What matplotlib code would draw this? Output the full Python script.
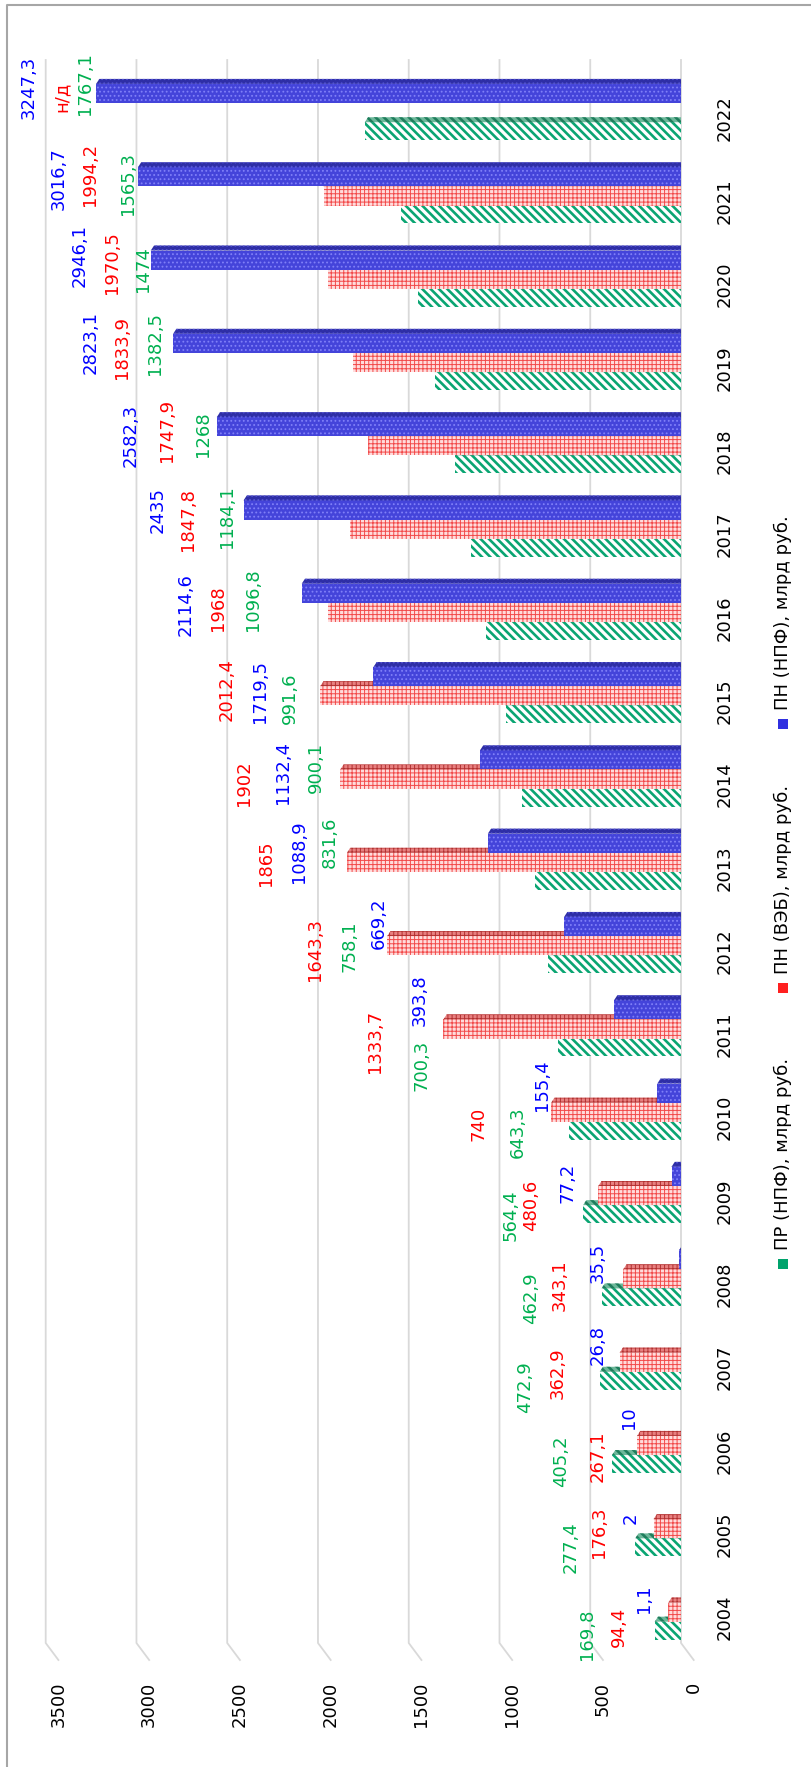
import matplotlib
matplotlib.use('Agg')
import matplotlib.pyplot as plt
from matplotlib.patches import Polygon, Rectangle

# данные (млрд руб.)
years = [2004, 2005, 2006, 2007, 2008, 2009, 2010, 2011, 2012, 2013,
         2014, 2015, 2016, 2017, 2018, 2019, 2020, 2021, 2022]
pr_npf = [169.8, 277.4, 405.2, 472.9, 462.9, 564.4, 643.3, 700.3, 758.1, 831.6,
          900.1, 991.6, 1096.8, 1184.1, 1268, 1382.5, 1474, 1565.3, 1767.1]
pn_veb = [94.4, 176.3, 267.1, 362.9, 343.1, 480.6, 740, 1333.7, 1643.3, 1865,
          1902, 2012.4, 1968, 1847.8, 1747.9, 1833.9, 1970.5, 1994.2, None]
pn_npf = [1.1, 2, 10, 26.8, 35.5, 77.2, 155.4, 393.8, 669.2, 1088.9,
          1132.4, 1719.5, 2114.6, 2435, 2582.3, 2823.1, 2946.1, 3016.7, 3247.3]
names = ['ПР (НПФ), млрд руб.', 'ПН (ВЭБ), млрд руб.', 'ПН (НПФ), млрд руб.']
value_ticks = [0, 500, 1000, 1500, 2000, 2500, 3000, 3500]

# где стоят подписи (как в исходной диаграмме)
green_lab_x = [516, 608, 662, 861, 826, 940, 898, 1429, 1826, 1934,
               2014, 2156, 2360, 2502, 2636, 2900, 2962, 3048, 3283]
green_lab_dy = [-0.2, -0.16, -0.13, -0.23, -0.17, -0.17, -0.17, -0.37, 0.06, 0.31,
                0.21, 0.04, 0.22, 0.22, 0.2, 0.29, 0.19, 0.22, 0.41]
red_lab_x = [342, 452, 457, 677, 670, 826, 1116, 1685, 2014, 2289,
             2409, 2502, 2551, 2715, 2834, 3079, 3133, 3255, 3411]
red_lab_dy = [-0.11, 0.02, -0.06, -0.07, -0.01, -0.05, -0.07, -0.08, 0.02, 0.06,
              0.02, 0.14, 0.12, 0.18, 0.25, 0.25, 0.27, 0.32, 0.26]
blue_lab_x = [204, 277, 287, 457, 457, 628, 764, 1438, 1664, 2104,
              2190, 2318, 2729, 2886, 3033, 3255, 3312, 3431, 3595]
blue_lab_dy = [0.22, 0.19, 0.4, 0.27, 0.26, 0.22, 0.39, 0.41, 0.34, 0.19,
               0.14, 0.12, 0.16, 0.3, 0.19, 0.31, 0.35, 0.27, 0.37]

W, H = 811, 1767
fig = plt.figure(figsize=(W / 100, H / 100), dpi=100)
ax = fig.add_axes([45.7 / W, (H - 1643) / H, (681 - 45.7) / W, (1643 - 60) / H])
ax.set_xlim(3500, 0)
ax.set_ylim(-0.306, 18.697)
ax.axis('off')

# сетка с "ножками" 3D-пола
for g in value_ticks:
    ax.plot([g, g, g - 70], [18.697, -0.306, -0.51], color='#D9D9D9', lw=1.3,
            clip_on=False, zorder=0)
    ax.text(g - 70, -0.774, str(g), rotation=90, ha='center', va='top',
            fontsize=13, clip_on=False)

idx = list(range(len(years)))
for i in idx:
    ax.text(-242, i, str(years[i]), rotation=90, ha='center', va='center',
            fontsize=13, clip_on=False)

series = [
    # values, y0, h, face, hatch, hatch colour, side face, side hatch colour, hatch lw
    (pr_npf, -0.265, 0.215, 'white', '\\\\\\\\', '#0AA572', '#6DB89A', '#1F7D5C', 1.9),
    ([v if v is not None else 0 for v in pn_veb], -0.05, 0.23, '#FFDCDC', '++++',
     '#F24A4A', '#E88080', '#B03030', 0.7),
    (pn_npf, 0.18, 0.23, '#4444DA', '....', '#8080F8', '#2E2EA6', '#5555D4', 0.8),
]
d = 0.06
for vals, y0, h, face, hatch, hcol, sface, shcol, hlw in series:
    with plt.rc_context({'hatch.linewidth': hlw}):
        bars = ax.barh([i + y0 for i in idx], [v + 25 for v in vals], height=h,
                       left=-50, align='edge', color=face, hatch=hatch,
                       edgecolor=hcol, linewidth=0, zorder=2)
        for b in bars:
            if hasattr(b, 'set_hatch_linewidth'):
                b.set_hatch_linewidth(hlw)
        for i, v in zip(idx, vals):
            y1 = i + y0 + h
            side = Polygon([(v - 25, y1), (-50, y1), (-40, y1 + d), (v - 43, y1 + d)],
                           closed=True, facecolor=sface, edgecolor=shcol, hatch=hatch,
                           linewidth=0, zorder=2)
            if hasattr(side, 'set_hatch_linewidth'):
                side.set_hatch_linewidth(hlw)
            ax.add_patch(side)

# подписи данных
for i in idx:
    ax.text(green_lab_x[i], i + green_lab_dy[i], f'{pr_npf[i]:g}'.replace('.', ','),
            rotation=90, ha='center', va='center', fontsize=13, color='#00B050',
            clip_on=False, zorder=5)
    txt = 'н/д' if pn_veb[i] is None else f'{pn_veb[i]:g}'.replace('.', ',')
    ax.text(red_lab_x[i], i + red_lab_dy[i], txt,
            rotation=90, ha='center', va='center', fontsize=13, color='#FF0000',
            clip_on=False, zorder=5)
    ax.text(blue_lab_x[i], i + blue_lab_dy[i], f'{pn_npf[i]:g}'.replace('.', ','),
            rotation=90, ha='center', va='center', fontsize=13, color='#0000FF',
            clip_on=False, zorder=5)

# легенда (повёрнута, как и вся диаграмма)
leg_y = [1264, 988, 724]
leg_col = ['#00A36C', '#FF2020', '#3030E0']
for name, ypx, col in zip(names, leg_y, leg_col):
    fig.add_artist(Rectangle(((783 - 5) / W, (H - ypx - 5) / H), 10 / W, 10 / H,
                             transform=fig.transFigure, facecolor=col, linewidth=0))
    fig.text(783 / W, (H - ypx + 14) / H, name, rotation=90, ha='center', va='bottom',
             fontsize=13)

# рамка
fig.add_artist(plt.Line2D([7.3 / W, 7.3 / W, 1], [0, 1 - 5 / H, 1 - 5 / H],
                          transform=fig.transFigure, color='#A6A6A6', lw=1.5))

fig.savefig('out.png', dpi=100)
